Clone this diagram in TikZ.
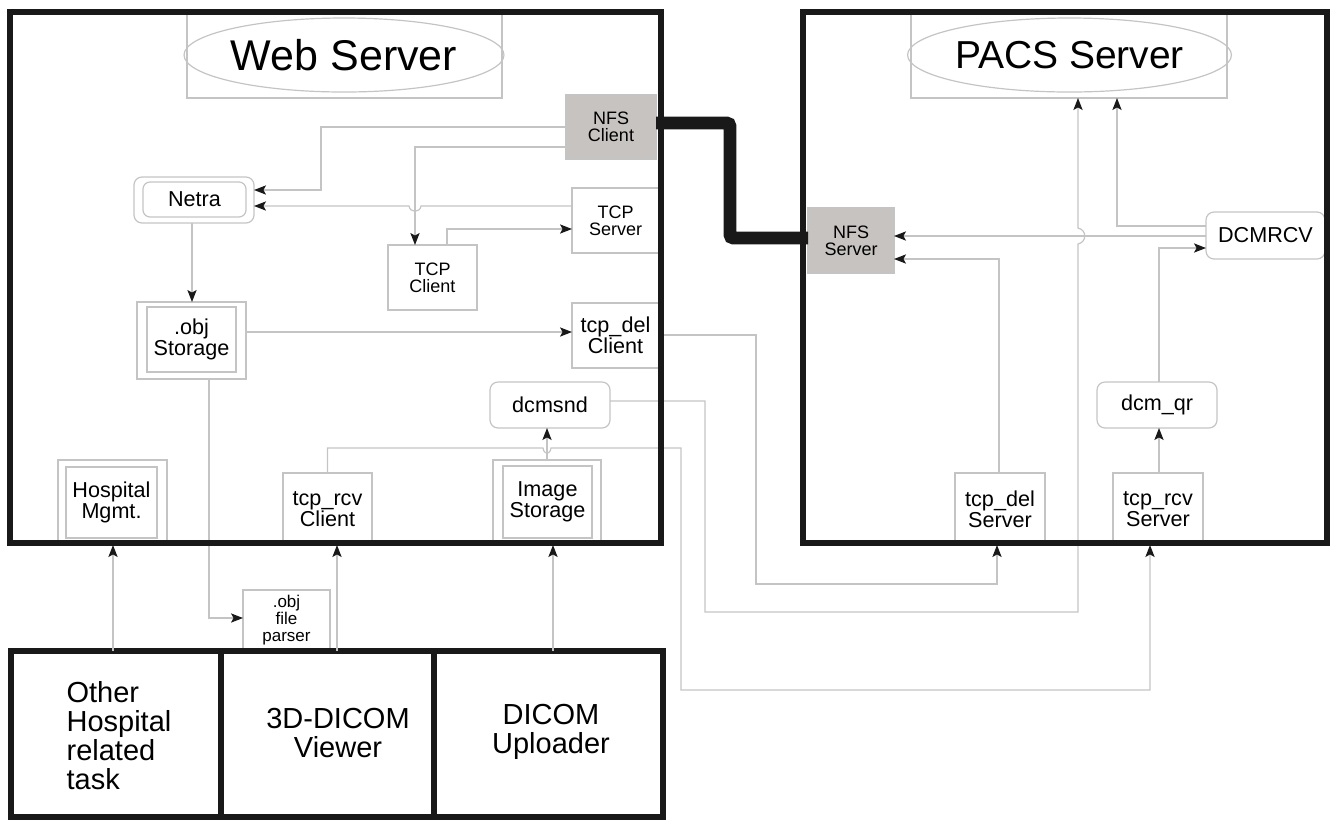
\documentclass[tikz,border=0pt]{standalone}
\usepackage{fontspec}
\setmainfont{Liberation Sans}
\usetikzlibrary{shapes.geometric,arrows.meta}
\definecolor{lg}{RGB}{196,196,196}
\definecolor{nfsgray}{RGB}{199,195,192}
\begin{document}
\begin{tikzpicture}[x=0.5pt,y=-0.5pt,
  wh/.style 2 args={minimum width=#1*0.5pt, minimum height=#2*0.5pt},
  base/.style={inner sep=0pt, outer sep=0pt, align=center},
  lbox/.style={base, rectangle, draw=lg, line width=0.6pt},
  rbox/.style={lbox, rounded corners=4pt},
  heavy/.style={base, rectangle, draw=black!90, line width=3.2pt},
  gbox/.style={lbox, fill=nfsgray},
  conn/.style={draw=lg, line width=0.6pt},
  arr/.style={-{Stealth[length=6pt,width=4.6pt,inset=1.3pt,black!90]}},
  fmed/.style={font=\fontsize{10.8pt}{10.4pt}\selectfont},
  fsm/.style={font=\fontsize{9pt}{8.4pt}\selectfont},
  fxs/.style={font=\fontsize{8.5pt}{8.5pt}\selectfont},
  fbig/.style={font=\fontsize{14.5pt}{14.5pt}\selectfont},
]
\useasboundingbox (0,0) rectangle (1333,821);

% ---- Web server internals
\node[lbox, wh={315}{86}] (webtitle) at (344.5,55) {};
\node[base, ellipse, draw=lg, line width=0.6pt, wh={279}{74}, font=\fontsize{21.5pt}{21.5pt}\selectfont] (webell) at (344,55) {Web Server};
\node[gbox, fsm, wh={90}{64}] (nfsc) at (611,127) {NFS\\Client};
\node[rbox, wh={120}{46}] (netra) at (194,200) {};
\node[rbox, rounded corners=3.5pt, fmed, wh={103}{35}] (netrain) at (194.5,199.5) {Netra};
\node[lbox, fsm, wh={87}{65}] (tcps) at (615.5,220.5) {TCP\\Server};
\node[lbox, fsm, wh={89}{65}] (tcpc) at (432.5,277.5) {TCP\\Client};
\node[lbox, wh={109}{77}] (obj) at (191.5,340.5) {};
\node[lbox, fmed, wh={89}{65}] (objin) at (191.5,339.5) {.obj\\Storage};
\node[lbox, fmed, wh={87}{65}] (tcpdc) at (615.5,335.5) {tcp\_del\\Client};
\node[rbox, fmed, wh={120}{46}] (dcmsnd) at (550,405) {dcmsnd};
\node[lbox, wh={108}{85}] (imgst) at (547,502.5) {};
\node[lbox, fmed, wh={89}{72}] (imgin) at (547.5,502) {Image\\Storage};
\node[lbox, fmed, wh={89}{72}] (tcprc) at (327.5,509) {tcp\_rcv\\Client};
\node[lbox, wh={109}{85}] (hosp) at (112.5,502.5) {};
\node[lbox, fmed, wh={91}{71}] (hospin) at (111.5,502.5) {Hospital\\Mgmt.};
\node[lbox, fxs, wh={87}{60}] (parser) at (286.5,620) {.obj\\file\\parser};

% ---- PACS server internals
\node[lbox, wh={316}{86}] (pacstitle) at (1069,55) {};
\node[base, ellipse, draw=lg, line width=0.6pt, wh={279}{74}, font=\fontsize{19.5pt}{19.5pt}\selectfont] (pacsell) at (1069.5,55) {PACS Server};
\node[gbox, fsm, wh={86}{65}] (nfss) at (851,240.5) {NFS\\Server};
\node[rbox, fmed, wh={119}{47}] (dcmrcv) at (1265.5,235.5) {DCMRCV};
\node[rbox, fmed, wh={120}{46}] (dcmqr) at (1157,405) {dcm\_qr};
\node[lbox, fmed, wh={90}{72}] (tcpds) at (1000,509) {tcp\_del\\Server};
\node[lbox, fmed, wh={90}{72}] (tcprs) at (1158,509) {tcp\_rcv\\Server};

% ---- connectors
\draw[conn,arr] (nfsc.west |- 0,127) -| (321,190) -- (netra.east |- 0,190);
\draw[conn,arr] (nfsc.west |- 0,147) -| (tcpc.north -| 415,0);
\draw[conn,arr] (tcps.west |- 0,206) -- (421,206) .. controls (420,213) and (410,213) .. (409,206) -- (netra.east |- 0,206);
\draw[conn,arr] (tcpc.north -| 447,0) |- (tcps.west |- 0,229);
\draw[conn,arr] (netra.south -| 192,0) -- (obj.north -| 192,0);
\draw[conn,arr] (obj.east |- 0,332) -- (tcpdc.west |- 0,332);
\draw[conn,arr] (obj.south -| 209,0) |- (parser.west |- 0,618);
\draw[conn,arr] (imgst.north -| 547,0) -- (dcmsnd.south -| 547,0);
\draw[conn,arr] (tcprc.north) -- (327.5,448) -- (543,448) .. controls (544,455) and (550,455) .. (551,448) -- (681,448) -- (681,690) -| (tcprs.south -| 1150,0);
\draw[conn,arr] (dcmsnd.east |- 0,401) -| (705,612) -| (1078,244) .. controls (1087,242) and (1087,230) .. (1078,228) -- (pacstitle.south -| 1078,0);
\draw[conn,arr] (tcpdc.east |- 0,335) -| (756,584) -| (tcpds.south -| 997,0);
\draw[conn,arr] (tcpds.north -| 999,0) |- (nfss.east |- 0,259);
\draw[conn,arr] (tcprs.north -| 1159,0) -- (dcmqr.south -| 1159,0);
\draw[conn,arr] (dcmqr.north -| 1159,0) |- (dcmrcv.west |- 0,248);
\draw[conn,arr] (dcmrcv.west |- 0,226) -| (pacstitle.south -| 1117,0);
\draw[conn,arr] (dcmrcv.west |- 0,236) -- (nfss.east |- 0,236);

% ---- heavy frames
\node[heavy, wh={651}{531}] (webbox) at (335.5,277.5) {};
\node[heavy, wh={524}{531}] (pacsbox) at (1065,277.5) {};
\node[heavy, wh={210}{166}] (cell1) at (116,734) {};
\node[heavy, wh={213}{166}] (cell2) at (327.5,734) {};
\node[heavy, wh={229}{166}] (cell3) at (548.5,734) {};

\node[base, fbig, align=left] (t1) at (119,736) {Other\\Hospital\\related\\task};
\node[base, fbig] (t2) at (338,733) {3D-DICOM\\Viewer};
\node[base, fbig] (t3) at (551,732) {DICOM\\Uploader};

\draw[conn,arr] (cell1.north -| 113,0) -- (hosp.south -| 113,0);
\draw[conn,arr] (cell2.north -| 337,0) -- (tcprc.south -| 337,0);
\draw[conn,arr] (cell3.north -| 553,0) -- (imgst.south -| 553,0);

\draw[draw=black!90, line width=6.3pt, rounded corners=1.5pt] (nfsc.east |- 0,123) -| (730,238) -- (nfss.west |- 0,238);
\end{tikzpicture}
\end{document}
